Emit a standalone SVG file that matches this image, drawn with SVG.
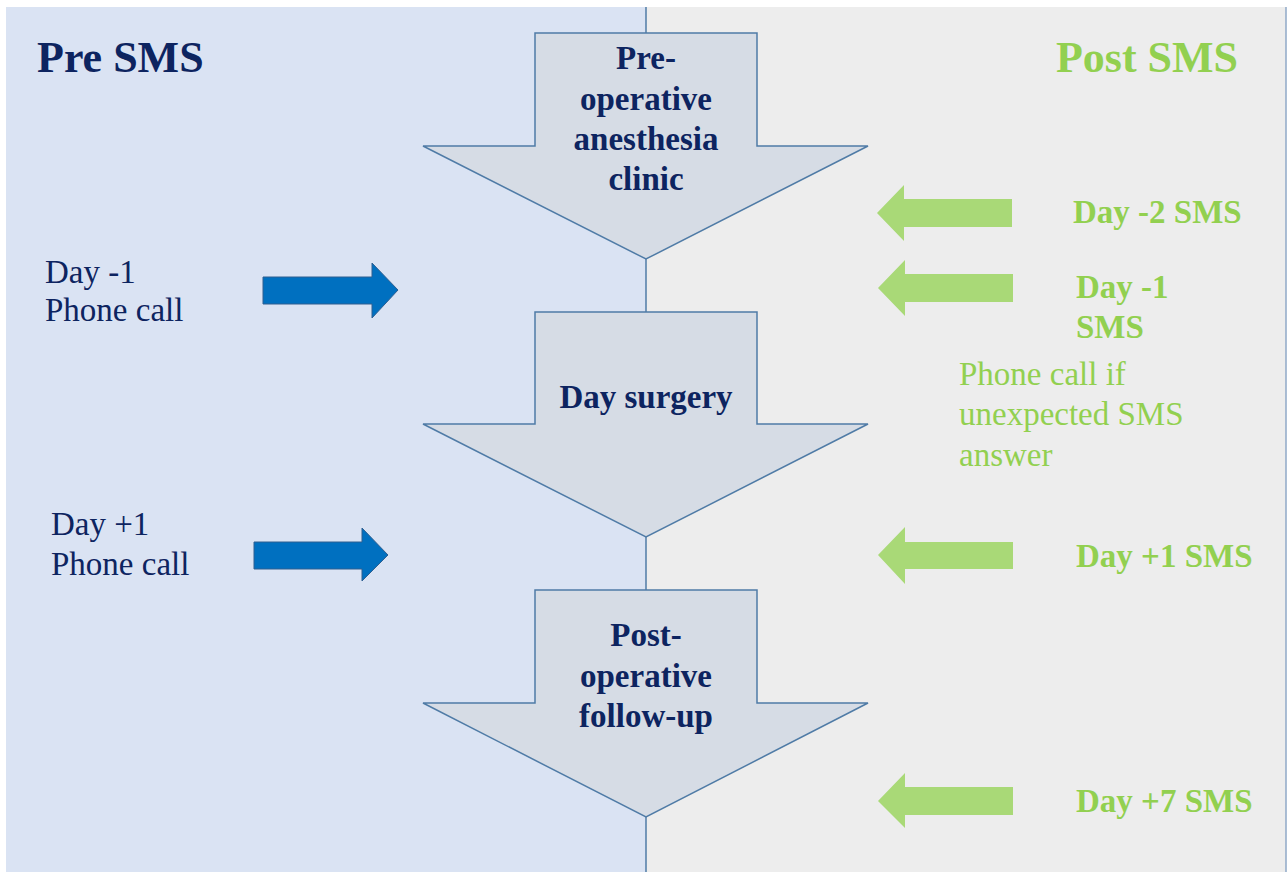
<svg xmlns="http://www.w3.org/2000/svg" width="1287" height="872" viewBox="0 0 1287 872">
<style>
.blk{fill:#d6dce5;stroke:#4f7ba6;stroke-width:1.5}
.t{font-family:"Liberation Serif","Times New Roman",serif;font-size:33px}
.nb{fill:#0d2460;font-weight:bold;text-anchor:middle}
.nv{fill:#0d2460}
.gb{fill:#92d050;font-weight:bold}
.gr{fill:#92d050}
.ba{fill:#0070c0;stroke:#2e5f90;stroke-width:1}
.ga{fill:#a9d977}
</style>
<rect x="0" y="0" width="1287" height="872" fill="#ffffff"/>
<rect x="6" y="7" width="640" height="865" fill="#dae3f3"/>
<rect x="646" y="7" width="640" height="865" fill="#ededed"/>
<line x1="1286" y1="7" x2="1286" y2="872" stroke="#8fa9c7" stroke-width="1.5"/>
<g id="connectors">
<line x1="646" y1="7" x2="646" y2="872" stroke="#4f7ba6" stroke-width="1.5"/>
</g>
<text class="t" x="37" y="72" font-size="44" font-weight="bold" fill="#0d2460" style="font-size:44px">Pre SMS</text>
<text class="t" x="1238" y="72" font-weight="bold" fill="#92d050" text-anchor="end" style="font-size:44px">Post SMS</text>
<g id="node-preop">
<polygon class="blk" points="535,33 757,33 757,146 868,146 646,259 423,146 535,146"/>
<text class="t nb" x="646" y="69">Pre-</text>
<text class="t nb" x="646" y="110">operative</text>
<text class="t nb" x="646" y="150">anesthesia</text>
<text class="t nb" x="646" y="190">clinic</text>
</g>
<g id="node-surgery">
<polygon class="blk" points="535,312 757,312 757,424 868,424 646,537 423,424 535,424"/>
<text class="t nb" x="646" y="408">Day surgery</text>
</g>
<g id="node-postop">
<polygon class="blk" points="535,590 757,590 757,703 868,703 646,817 423,703 535,703"/>
<text class="t nb" x="646" y="646">Post-</text>
<text class="t nb" x="646" y="687">operative</text>
<text class="t nb" x="646" y="727">follow-up</text>
</g>
<g id="pre-day-1">
<text class="t nv" x="45" y="283">Day -1</text>
<text class="t nv" x="45" y="321">Phone call</text>
<polygon class="ba" points="263,277 372,277 372,263 398,290 372,318 372,304 263,304"/>
</g>
<g id="pre-day+1">
<text class="t nv" x="51" y="535">Day +1</text>
<text class="t nv" x="51" y="575">Phone call</text>
<polygon class="ba" points="254,542 362,542 362,528 388,555 362,581 362,569 254,569"/>
</g>
<g id="post-day-2">
<polygon class="ga" points="1012,199 904,199 904,185 877,213 904,241 904,227 1012,227"/>
<text class="t gb" x="1073" y="223">Day -2 SMS</text>
</g>
<g id="post-day-1">
<polygon class="ga" points="1013,274 905,274 905,260 878,288 905,316 905,302 1013,302"/>
<text class="t gb" x="1076" y="298">Day -1</text>
<text class="t gb" x="1076" y="338">SMS</text>
<text class="t gr" x="959" y="385">Phone call if</text>
<text class="t gr" x="959" y="425">unexpected SMS</text>
<text class="t gr" x="959" y="466">answer</text>
</g>
<g id="post-day+1">
<polygon class="ga" points="1013,542 905,542 905,527 878,555 905,584 905,569 1013,569"/>
<text class="t gb" x="1076" y="567">Day +1 SMS</text>
</g>
<g id="post-day+7">
<polygon class="ga" points="1013,787 905,787 905,773 878,801 905,828 905,815 1013,815"/>
<text class="t gb" x="1076" y="812">Day +7 SMS</text>
</g>
</svg>
